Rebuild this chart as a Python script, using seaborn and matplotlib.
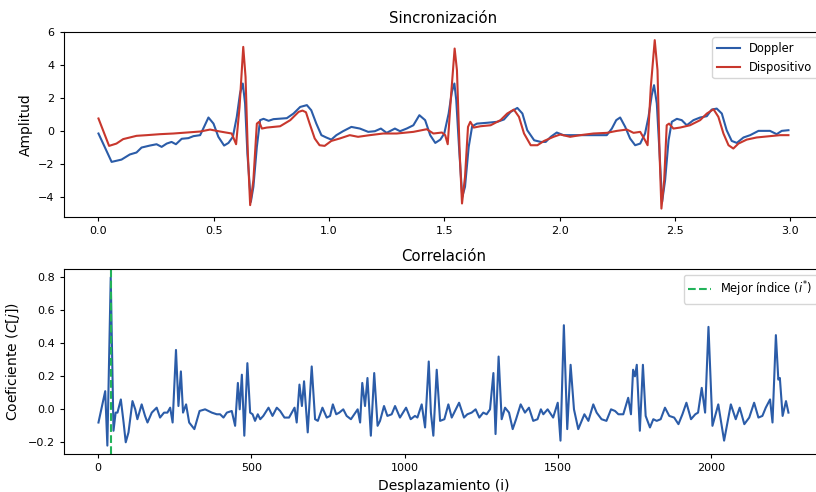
import numpy as np
import pandas as pd
import matplotlib
matplotlib.use("Agg")
import matplotlib.pyplot as plt
import seaborn as sns

# ---- Synchronised signals (time in s, amplitude) ----
t_doppler = [
    0.000, 0.057, 0.100, 0.136, 0.165, 0.187, 0.223, 0.252, 0.274, 0.296,
    0.317, 0.336, 0.361, 0.390, 0.412, 0.441, 0.458, 0.477, 0.499, 0.520,
    0.545, 0.564, 0.583, 0.600, 0.614, 0.626, 0.636, 0.646, 0.661, 0.672,
    0.687, 0.701, 0.716, 0.738, 0.759, 0.817, 0.846, 0.875, 0.904, 0.923,
    0.945, 0.967, 0.988, 1.010, 1.032, 1.061, 1.097, 1.134, 1.170, 1.199,
    1.225, 1.250, 1.286, 1.308, 1.337, 1.366, 1.392, 1.417, 1.439, 1.461,
    1.483, 1.500, 1.519, 1.533, 1.544, 1.552, 1.564, 1.578, 1.590, 1.606,
    1.621, 1.642, 1.686, 1.730, 1.759, 1.788, 1.817, 1.839, 1.860, 1.890,
    1.919, 1.940, 1.962, 1.988, 2.017, 2.061, 2.133, 2.205, 2.227, 2.246,
    2.263, 2.285, 2.306, 2.328, 2.350, 2.371, 2.386, 2.400, 2.410, 2.422,
    2.434, 2.445, 2.458, 2.473, 2.487, 2.509, 2.530, 2.552, 2.581, 2.610,
    2.639, 2.660, 2.682, 2.704, 2.725, 2.747, 2.769, 2.798, 2.827, 2.863,
    2.913, 2.942, 2.964, 2.993,
]
doppler = [
    -0.14, -1.86, -1.72, -1.41, -1.29, -0.99, -0.87, -0.79, -0.95, -0.75,
    -0.65, -0.79, -0.46, -0.42, -0.30, -0.24, 0.26, 0.83, 0.46, -0.34,
    -0.87, -0.71, -0.34, 0.87, 2.28, 2.89, 1.68, -1.35, -4.28, -3.37,
    -0.95, 0.67, 0.75, 0.63, 0.73, 0.79, 1.07, 1.47, 1.58, 1.27,
    0.46, -0.24, -0.38, -0.51, -0.24, 0.00, 0.26, 0.16, -0.04, 0.00,
    0.16, -0.10, 0.16, 0.00, 0.16, 0.36, 0.97, 0.67, -0.24, -0.71,
    -0.51, -0.14, 1.07, 2.38, 2.89, 1.88, -0.95, -3.98, -3.37, -0.95,
    0.30, 0.46, 0.51, 0.57, 0.71, 1.17, 1.41, 1.07, 0.06, -0.55,
    -0.65, -0.65, -0.34, -0.08, -0.24, -0.24, -0.24, -0.24, 0.16, 0.67,
    0.83, 0.26, -0.44, -0.85, -0.75, -0.14, 0.87, 2.18, 2.79, 1.68,
    -1.35, -4.28, -2.97, -0.55, 0.57, 0.75, 0.67, 0.36, 0.67, 0.83,
    0.91, 1.31, 1.37, 1.07, 0.06, -0.59, -0.71, -0.38, -0.24, 0.02,
    0.02, -0.18, 0.02, 0.06,
]

t_dispositivo = [
    0.000, 0.046, 0.078, 0.107, 0.136, 0.165, 0.209, 0.267, 0.325, 0.383,
    0.441, 0.484, 0.528, 0.578, 0.597, 0.612, 0.628, 0.638, 0.648, 0.658,
    0.672, 0.687, 0.697, 0.709, 0.730, 0.759, 0.788, 0.832, 0.868, 0.885,
    0.900, 0.916, 0.938, 0.959, 0.981, 1.010, 1.047, 1.090, 1.126, 1.177,
    1.235, 1.294, 1.337, 1.366, 1.424, 1.453, 1.490, 1.504, 1.515, 1.529,
    1.545, 1.555, 1.567, 1.577, 1.590, 1.603, 1.613, 1.628, 1.657, 1.701,
    1.744, 1.773, 1.802, 1.824, 1.846, 1.875, 1.904, 1.933, 1.974, 2.003,
    2.046, 2.090, 2.147, 2.205, 2.249, 2.292, 2.321, 2.350, 2.371, 2.382,
    2.396, 2.413, 2.425, 2.434, 2.442, 2.454, 2.465, 2.475, 2.494, 2.523,
    2.566, 2.610, 2.639, 2.668, 2.689, 2.711, 2.733, 2.754, 2.776, 2.812,
    2.855, 2.913, 2.957, 2.993,
]
dispositivo = [
    0.77, -0.89, -0.75, -0.48, -0.38, -0.28, -0.24, -0.18, -0.14, -0.08,
    -0.02, 0.10, -0.02, -0.14, -0.79, 1.47, 5.11, 3.29, -1.35, -4.48,
    -2.97, 0.46, 0.57, 0.16, 0.22, 0.26, 0.30, 0.67, 1.17, 1.25,
    1.15, 0.46, -0.44, -0.85, -0.89, -0.59, -0.44, -0.24, -0.34, -0.24,
    -0.14, -0.14, -0.08, -0.04, 0.12, -0.14, -0.08, -0.24, -0.79, 2.08,
    5.01, 3.70, -1.35, -4.38, -2.77, 0.26, 0.57, 0.22, 0.30, 0.36,
    0.67, 1.07, 1.31, 0.87, -0.14, -0.85, -0.85, -0.59, -0.34, -0.20,
    -0.34, -0.24, -0.14, -0.10, 0.02, 0.10, -0.10, -0.04, -0.55, -0.85,
    2.69, 5.52, 3.70, -1.35, -4.69, -2.97, 0.36, 0.46, 0.16, 0.22,
    0.36, 0.67, 1.07, 1.33, 0.87, -0.14, -0.85, -1.05, -0.75, -0.51,
    -0.38, -0.30, -0.24, -0.24,
]

# ---- Cross-correlation coefficient per lag ----
lags = [
    1, 23, 30, 41, 50, 57, 63, 74, 83, 90,
    99, 112, 121, 128, 142, 153, 161, 175, 191, 202,
    215, 226, 235, 243, 254, 262, 270, 277, 287, 297,
    314, 331, 349, 360, 371, 387, 398, 409, 420, 436,
    447, 456, 462, 469, 477, 487, 496, 504, 512, 521,
    529, 539, 556, 569, 583, 594, 608, 623, 641, 648,
    657, 665, 672, 684, 697, 708, 717, 732, 746, 757,
    766, 777, 787, 800, 811, 825, 836, 847, 855, 862,
    871, 879, 890, 901, 912, 920, 933, 944, 958, 969,
    985, 1005, 1020, 1034, 1042, 1056, 1067, 1079, 1086, 1094,
    1105, 1116, 1130, 1143, 1154, 1178, 1194, 1205, 1219, 1232,
    1244, 1257, 1268, 1279, 1290, 1297, 1307, 1317, 1328, 1341,
    1353, 1364, 1379, 1393, 1406, 1420, 1434, 1445, 1453, 1467,
    1485, 1500, 1509, 1520, 1531, 1542, 1553, 1567, 1587, 1600,
    1616, 1627, 1643, 1659, 1674, 1687, 1698, 1714, 1730, 1739,
    1746, 1752, 1758, 1768, 1778, 1787, 1801, 1812, 1823, 1836,
    1850, 1864, 1880, 1894, 1907, 1920, 1935, 1949, 1958, 1970,
    1981, 1992, 2005, 2024, 2043, 2065, 2081, 2094, 2109, 2125,
    2141, 2155, 2168, 2179, 2193, 2201, 2212, 2220, 2225, 2234,
    2245, 2253,
]
corr = [
    -0.08, 0.11, -0.22, 0.80, -0.13, -0.02, -0.02, 0.06, -0.08, -0.20,
    -0.14, 0.05, 0.00, -0.06, 0.03, -0.04, -0.08, -0.02, 0.01, -0.05,
    -0.02, -0.02, 0.01, -0.08, 0.36, 0.02, 0.23, -0.02, 0.03, -0.08,
    -0.12, -0.01, 0.00, -0.01, -0.02, -0.03, -0.03, -0.05, -0.02, -0.01,
    -0.10, 0.16, 0.00, 0.21, -0.16, 0.28, -0.02, -0.03, -0.07, -0.03,
    -0.06, -0.04, 0.01, -0.04, 0.01, -0.01, -0.05, -0.05, 0.01, -0.08,
    0.15, 0.02, 0.17, -0.14, 0.26, -0.06, -0.07, 0.01, -0.05, -0.04,
    0.03, -0.03, -0.02, 0.00, -0.04, -0.06, -0.03, 0.00, -0.08, 0.16,
    0.02, 0.19, -0.16, 0.22, -0.10, -0.07, 0.02, -0.04, -0.03, 0.02,
    -0.05, 0.01, -0.06, -0.04, -0.05, 0.03, -0.11, 0.29, -0.02, -0.16,
    0.24, -0.07, -0.06, 0.03, -0.05, 0.04, -0.05, -0.03, -0.02, 0.00,
    -0.05, -0.02, -0.03, 0.00, 0.22, -0.15, 0.32, -0.06, 0.01, -0.02,
    -0.12, -0.06, 0.03, -0.02, 0.01, -0.07, -0.06, 0.00, -0.03, 0.00,
    -0.05, 0.04, -0.19, 0.51, -0.12, 0.27, 0.00, -0.12, -0.03, -0.07,
    0.03, -0.02, -0.06, -0.07, 0.00, -0.01, -0.03, -0.03, 0.07, -0.03,
    0.24, 0.20, 0.27, -0.13, 0.27, -0.04, -0.11, -0.06, -0.07, -0.06,
    0.01, -0.04, -0.05, -0.09, -0.03, 0.04, -0.06, -0.03, -0.02, 0.13,
    -0.02, 0.50, -0.10, 0.03, -0.19, 0.03, -0.06, 0.01, -0.09, -0.05,
    0.04, -0.05, -0.04, 0.01, 0.06, -0.08, 0.45, 0.18, 0.19, -0.04,
    0.05, -0.02,
]

BLUE = "#2b5ca8"
RED = "#c8372d"
GREEN = "#22b35a"

df_dop = pd.DataFrame({"t": t_doppler, "amp": doppler})
df_dev = pd.DataFrame({"t": t_dispositivo, "amp": dispositivo})
df_corr = pd.DataFrame({"lag": lags, "c": corr})
best = int(df_corr.loc[df_corr["c"].idxmax(), "lag"])

fig = plt.figure(figsize=(8.16, 4.92), dpi=100)
ax1 = fig.add_axes([0.0784, 0.5589, 0.9301, 0.3767])
ax2 = fig.add_axes([0.0784, 0.0772, 0.9301, 0.3761])

sns.lineplot(data=df_dop, x="t", y="amp", ax=ax1, color=BLUE, lw=1.5,
             label="Doppler", sort=False)
sns.lineplot(data=df_dev, x="t", y="amp", ax=ax1, color=RED, lw=1.5,
             label="Dispositivo", sort=False)
ax1.set_title("Sincronización", fontsize=10.7)
ax1.set_xlabel("")
ax1.set_ylabel("Amplitud", fontsize=10)
ax1.set_yticks([-4, -2, 0, 2, 4, 6])
ax1.legend(loc="upper right", fontsize=8.3)

sns.lineplot(data=df_corr, x="lag", y="c", ax=ax2, color=BLUE, lw=1.5, sort=False)
ax2.axvline(best, color=GREEN, ls="--", lw=1.5, label=r"Mejor índice ($i^{*}$)")
ax2.set_title("Correlación", fontsize=10.7)
ax2.set_xlabel("Desplazamiento (i)", fontsize=10)
ax2.set_ylabel(r"Coeficiente ($C[j]$)", fontsize=10)
ax2.legend(loc="upper right", fontsize=8.3)

for ax in (ax1, ax2):
    ax.tick_params(labelsize=8, length=3.2)

fig.savefig("out.png", dpi=100)
